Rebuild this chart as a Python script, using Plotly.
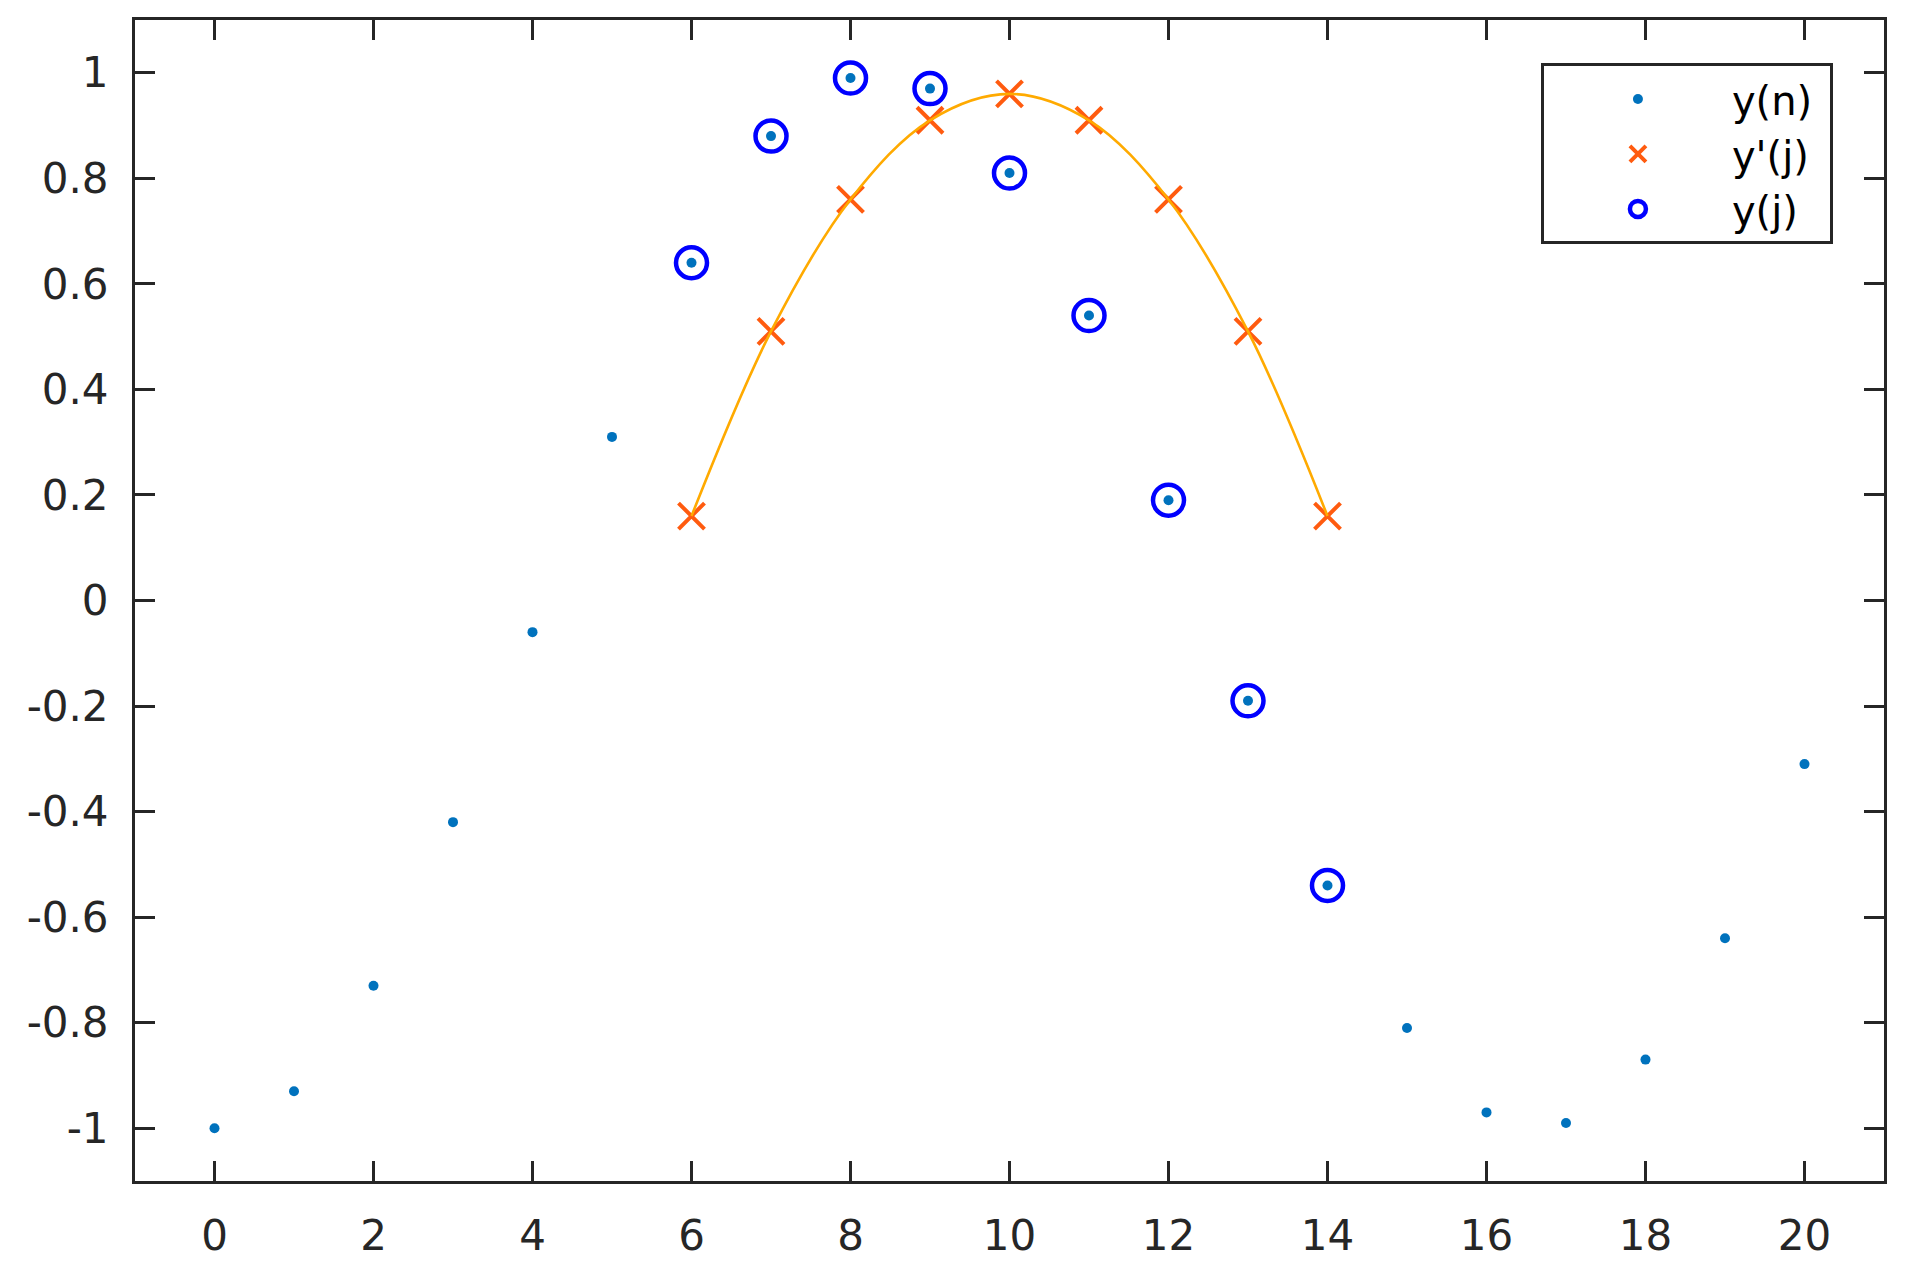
import plotly.graph_objects as go

# sampled signal y(n)
n_vals = list(range(0, 21))
y_n = [-1.0, -0.93, -0.73, -0.42, -0.06, 0.31, 0.64, 0.88, 0.99, 0.97, 0.81,
       0.54, 0.19, -0.19, -0.54, -0.81, -0.97, -0.99, -0.87, -0.64, -0.31]

# window j and its values
j_vals = [6, 7, 8, 9, 10, 11, 12, 13, 14]
y_j = [0.64, 0.88, 0.99, 0.97, 0.81, 0.54, 0.19, -0.19, -0.54]
y_prime_j = [0.16, 0.51, 0.76, 0.91, 0.96, 0.91, 0.76, 0.51, 0.16]

y_tick_vals = [-1, -0.8, -0.6, -0.4, -0.2, 0, 0.2, 0.4, 0.6, 0.8, 1]
y_tick_labels = ["-1", "-0.8", "-0.6", "-0.4", "-0.2", "0", "0.2", "0.4", "0.6", "0.8", "1"]

axis_color = "#262626"
font_family = "DejaVu Sans, Arial, Liberation Sans, sans-serif"
pad = "\u00a0"  # keeps some room right of the legend text

fig = go.Figure()

fig.add_trace(go.Scatter(
    x=n_vals, y=y_n, mode="markers", name="y(n)" + pad,
    marker=dict(color="#0072BD", size=10, symbol="circle"),
))

fig.add_trace(go.Scatter(
    x=j_vals, y=y_prime_j, mode="markers", name="y'(j)" + pad,
    marker=dict(color="#FF5B0F", size=26, symbol="x-thin",
                line=dict(color="#FF5B0F", width=4)),
))

# smooth curve through y'(j), drawn on top of the crosses
fig.add_trace(go.Scatter(
    x=j_vals, y=y_prime_j, mode="lines",
    line=dict(color="#FFAA00", width=2.6, shape="spline", smoothing=1.0),
    showlegend=False, hoverinfo="skip",
))

fig.add_trace(go.Scatter(
    x=j_vals, y=y_j, mode="markers", name="y(j)" + pad,
    marker=dict(color="#0000FF", size=31, symbol="circle-open",
                line=dict(color="#0000FF", width=4.5)),
))

fig.update_xaxes(
    range=[-1, 21], tick0=0, dtick=2,
    showline=True, linecolor=axis_color, linewidth=3, mirror="ticks",
    ticks="inside", ticklen=20, tickwidth=3, tickcolor=axis_color,
    showgrid=False, zeroline=False,
    tickfont=dict(size=42, color=axis_color, family=font_family),
    ticklabelstandoff=16,
)
fig.update_yaxes(
    range=[-1.1, 1.1], tickvals=y_tick_vals, ticktext=y_tick_labels,
    showline=True, linecolor=axis_color, linewidth=3, mirror="ticks",
    ticks="inside", ticklen=20, tickwidth=3, tickcolor=axis_color,
    showgrid=False, zeroline=False,
    tickfont=dict(size=42, color=axis_color, family=font_family),
    ticklabelstandoff=15,
)

fig.update_layout(
    width=1909, height=1272,
    margin=dict(l=135, r=25, t=20, b=89),
    paper_bgcolor="white", plot_bgcolor="white",
    font=dict(family=font_family, color="black"),
    legend=dict(
        x=0.9708, y=0.9626, xanchor="right", yanchor="top",
        bgcolor="white", bordercolor=axis_color, borderwidth=3,
        font=dict(size=40, color="black", family=font_family),
        itemwidth=178,
    ),
)

fig.write_html(
    "out.html",
    config={"displayModeBar": False},
    post_script="document.body.style.margin='0';document.body.style.overflow='hidden';",
)
